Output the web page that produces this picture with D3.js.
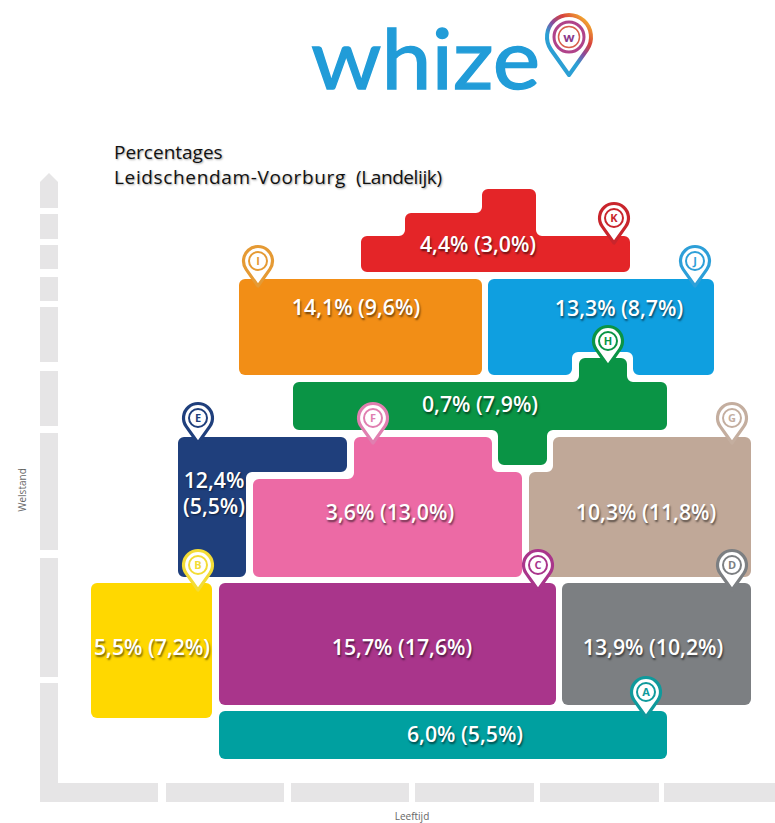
<!DOCTYPE html>
<html>
<head>
<meta charset="utf-8">
<script src="https://cdn.jsdelivr.net/npm/d3@7"></script>
<style>
html, body { margin: 0; padding: 0; background: #fff; overflow: hidden; }
svg { display: block; }
.value { font-family: "Open Sans", sans-serif; font-weight: 600; font-size: 21.3px; fill: #fff;
         text-anchor: middle; text-shadow: 1px 1.5px 2px rgba(0,0,0,.55); }
.title { font-family: "Open Sans", sans-serif; font-size: 19px; fill: #111;
         text-shadow: 1px 1px 2px rgba(0,0,0,.35); }
.axisname { font-family: "Open Sans", sans-serif; font-size: 10px; fill: #666; text-anchor: middle; }
.letter { font-family: "Open Sans", sans-serif; font-weight: 700; font-size: 11px; text-anchor: middle; }
</style>
</head>
<body>
<script>
// Segment letters and percentages (municipality, national)
var letters = ["A", "B", "C", "D", "E", "F", "G", "H", "I", "J", "K"];
var local = ["6,0%", "5,5%", "15,7%", "13,9%", "12,4%", "3,6%", "10,3%", "0,7%", "14,1%", "13,3%", "4,4%"];
var national = ["5,5%", "7,2%", "17,6%", "10,2%", "5,5%", "13,0%", "11,8%", "7,9%", "9,6%", "8,7%", "3,0%"];
var colors = ["#00a0a0", "#ffd800", "#a9358b", "#7c7f82", "#1f3f7c", "#ec6aa5", "#c0a898", "#0a9445", "#f28e16", "#0f9fe0", "#e42528"];
var pinColors = ["#0f9a9c", "#f3dc36", "#a9358b", "#7c7f82", "#1f3f7c", "#e07fb0", "#c4ae9f", "#0a9445", "#e59a34", "#2d9fd8", "#c9252c"];

// Outline of each segment on the grid: age columns (x), welstand bands (y)
var outlines = [
    [[1.432, .728], [5.016, .728], [5.016, .344], [1.432, .344]],
    [[.408, 1.752], [1.376, 1.752], [1.376, .672], [.408, .672]],
    [[1.432, 1.752], [4.128, 1.752], [4.128, .776], [1.432, .776]],
    [[4.176, 1.752], [5.688, 1.752], [5.688, .776], [4.176, .776]],
    [[1.104, 2.92], [2.456, 2.92], [2.456, 2.64], [1.648, 2.64], [1.648, 1.8], [1.104, 1.8]],
    [[1.704, 2.584], [2.512, 2.584], [2.512, 2.92], [3.616, 2.92], [3.616, 2.64], [3.856, 2.64], [3.856, 1.8], [1.704, 1.8]],
    [[4.104, 2.92], [5.688, 2.92], [5.688, 1.8], [3.912, 1.8], [3.912, 2.64], [4.104, 2.64]],
    [[2.024, 3.36], [4.312, 3.36], [4.312, 3.552], [4.696, 3.552], [4.696, 3.36], [5.016, 3.36], [5.016, 2.976],
     [4.056, 2.976], [4.056, 2.696], [3.664, 2.696], [3.664, 2.976], [2.024, 2.976]],
    [[1.592, 4.184], [3.536, 4.184], [3.536, 3.416], [1.592, 3.416]],
    [[3.584, 4.184], [5.392, 4.184], [5.392, 3.416], [4.744, 3.416], [4.744, 3.6], [4.256, 3.6], [4.256, 3.416], [3.584, 3.416]],
    [[2.568, 4.528], [2.92, 4.528], [2.92, 4.712], [3.536, 4.712], [3.536, 4.904], [3.968, 4.904], [3.968, 4.528], [4.72, 4.528], [4.72, 4.24], [2.568, 4.24]]
];

// Where each value label sits and where each pin points, in grid units
var labelAt = [[3.4, .536], [.896, 1.232], [2.896, 1.232], [4.904, 1.232], [1.392, 2.46], [2.8, 2.312], [4.848, 2.312], [3.52, 3.176], [2.528, 3.952], [4.632, 3.944], [3.504, 4.456]];
var pinAt = [[4.848, .68], [1.264, 1.696], [3.984, 1.696], [5.536, 1.696], [1.264, 2.872], [2.664, 2.872], [5.536, 2.872], [4.544, 3.488], [1.744, 4.128], [5.24, 4.128], [4.592, 4.472]];

// Grey axis blocks, the last y block carries the arrow head
var xSegments = [[0, .944], [1.008, 1.952], [2.008, 2.952], [3, 3.952], [4, 4.952], [4.992, 5.992]];
var ySegments = [[0, .952], [1, 1.952], [2.016, 2.952], [3.008, 3.448], [3.52, 3.96], [4.008, 4.2], [4.264, 4.456], [4.504, 4.704]];
var yArrow = [4.752, 4.96, 5.032];

var width = 775, height = 823;

var x = d3.scaleLinear().domain([0, 6]).range([40, 790]);
var y = d3.scaleLinear().domain([0, 5]).range([802, 177]);

var svg = d3.select("body").append("svg")
    .attr("width", width)
    .attr("height", height);

// Logo
var defs = svg.append("defs");
var grad = defs.append("linearGradient").attr("id", "logoRing")
    .attr("x1", 0).attr("y1", 1).attr("x2", .75).attr("y2", 0);
grad.append("stop").attr("offset", "45%").attr("stop-color", "#2b9fd4");
grad.append("stop").attr("offset", "62%").attr("stop-color", "#8a4a9c");
grad.append("stop").attr("offset", "80%").attr("stop-color", "#d8423c");
grad.append("stop").attr("offset", "100%").attr("stop-color", "#f0a030");

svg.append("text")
    .attr("x", 311).attr("y", 89)
    .attr("textLength", 229)
    .attr("lengthAdjust", "spacingAndGlyphs")
    .style("font-family", "Lato, sans-serif")
    .style("font-size", "84px")
    .style("fill", "#219cd8")
    .style("stroke", "#219cd8")
    .style("stroke-width", 1.3)
    .text("whize");

function pinPath(r, d) {
    var sin = r / d, side = r * Math.sqrt(1 - sin * sin), up = -d + r * sin;
    return "M0,0L" + (-side) + "," + up + "A" + r + "," + r + " 0 1 1 " + side + "," + up + "Z";
}

var logoPin = svg.append("g").attr("transform", "translate(569,75)");
logoPin.append("path").attr("d", pinPath(22, 38))
    .attr("fill", "#fff").attr("stroke", "url(#logoRing)").attr("stroke-width", 4).attr("stroke-linejoin", "round");
logoPin.append("circle").attr("cy", -38).attr("r", 15)
    .attr("fill", "none").attr("stroke", "#b0438a").attr("stroke-width", 3);
logoPin.append("circle").attr("cy", -38).attr("r", 10.5)
    .attr("fill", "#fff").attr("stroke", "#d8604c").attr("stroke-width", 1.5);
logoPin.append("text").attr("y", -33).attr("text-anchor", "middle")
    .style("font-family", "Lato, sans-serif").style("font-weight", 900).style("font-size", "14px")
    .style("fill", "#8a3a8c").text("w");

// Title
svg.append("text").attr("class", "title").attr("x", 114).attr("y", 159).text("Percentages");
var titleLine = svg.append("text").attr("class", "title").attr("x", 114).attr("y", 184);
titleLine.append("tspan").style("letter-spacing", ".65px").text("Leidschendam-Voorburg");
titleLine.append("tspan").attr("x", 356).style("letter-spacing", "-.4px").text("(Landelijk)");

// Axes
var axisGrey = "#e6e5e6";
var thick = x(.144) - x(0);

svg.selectAll(".xseg").data(xSegments).enter().append("rect")
    .attr("class", "xseg")
    .attr("x", function (d) { return x(d[0]); })
    .attr("width", function (d) { return x(d[1]) - x(d[0]); })
    .attr("y", y(.152))
    .attr("height", y(0) - y(.152))
    .attr("fill", axisGrey);

svg.selectAll(".yseg").data(ySegments).enter().append("rect")
    .attr("class", "yseg")
    .attr("x", x(0))
    .attr("width", thick)
    .attr("y", function (d) { return y(d[1]); })
    .attr("height", function (d) { return y(d[0]) - y(d[1]); })
    .attr("fill", axisGrey);

svg.append("path")
    .attr("d", d3.line()([
        [x(0), y(yArrow[0])], [x(0), y(yArrow[1])],
        [x(0) + thick / 2, y(yArrow[2])],
        [x(0) + thick, y(yArrow[1])], [x(0) + thick, y(yArrow[0])]
    ]) + "Z")
    .attr("fill", axisGrey);

svg.append("text").attr("class", "axisname")
    .attr("transform", "translate(26,490) rotate(-90)").text("Welstand");
svg.append("text").attr("class", "axisname")
    .attr("x", 412).attr("y", 820).text("Leeftijd");

// Rounded outline, works for inner corners too
function roundedOutline(points, r) {
    var p = points.map(function (d) { return [x(d[0]), y(d[1])]; });
    var n = p.length;
    var path = d3.path();
    var a = p[n - 1], b = p[0];
    path.moveTo((a[0] + b[0]) / 2, (a[1] + b[1]) / 2);
    for (var i = 0; i < n; i++) {
        var cur = p[i], next = p[(i + 1) % n];
        path.arcTo(cur[0], cur[1], next[0], next[1], r);
    }
    path.closePath();
    return path.toString();
}

var index = d3.range(letters.length);

svg.selectAll(".segment").data(index).enter().append("path")
    .attr("class", "segment")
    .attr("d", function (i) { return roundedOutline(outlines[i], 6); })
    .attr("fill", function (i) { return colors[i]; });

// Value labels (E does not fit on one line)
index.forEach(function (i) {
    var lx = x(labelAt[i][0]), ly = y(labelAt[i][1]);
    if (letters[i] == "E") {
        svg.append("text").attr("class", "value").attr("x", lx).attr("y", ly - 7).text(local[i]);
        svg.append("text").attr("class", "value").attr("x", lx).attr("y", ly + 19).text("(" + national[i] + ")");
    } else {
        svg.append("text").attr("class", "value").attr("x", lx).attr("y", ly + 7)
            .text(local[i] + " (" + national[i] + ")");
    }
});

// Pins
var pins = svg.selectAll(".pin").data(index).enter().append("g")
    .attr("class", "pin")
    .attr("transform", function (i) { return "translate(" + x(pinAt[i][0]) + "," + y(pinAt[i][1]) + ")"; });

pins.append("path")
    .attr("d", pinPath(14.5, 25))
    .attr("fill", "#fff")
    .attr("stroke", function (i) { return pinColors[i]; })
    .attr("stroke-width", 3.2)
    .attr("stroke-linejoin", "round");

pins.append("circle")
    .attr("cy", -25)
    .attr("r", 9)
    .attr("fill", "#fff")
    .attr("stroke", function (i) { return pinColors[i]; })
    .attr("stroke-width", 2);

pins.append("text")
    .attr("class", "letter")
    .attr("y", -21)
    .style("fill", function (i) { return pinColors[i]; })
    .text(function (i) { return letters[i]; });
</script>
</body>
</html>
